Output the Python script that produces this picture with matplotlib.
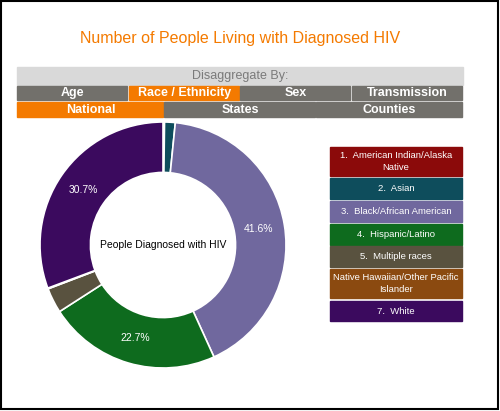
import matplotlib
matplotlib.use("Agg")
import matplotlib.pyplot as plt
from matplotlib.patches import Rectangle
import numpy as np

groups = ["American Indian/Alaska Native", "Asian", "Black/African American",
          "Hispanic/Latino", "Multiple races", "Native Hawaiian/Other Pacific Islander", "White"]
values = [0.2, 1.4, 41.6, 22.7, 3.3, 0.1, 30.7]
colors = ["#8B0A0A", "#0E4D5C", "#70689E", "#0E6B1E", "#59523F", "#8B4A10", "#3B0A5E"]
legend_labels = ["1.  American Indian/Alaska\nNative", "2.  Asian", "3.  Black/African American",
                 "4.  Hispanic/Latino", "5.  Multiple races", "Native Hawaiian/Other Pacific\nIslander", "7.  White"]
row1 = ["Age", "Race / Ethnicity", "Sex", "Transmission"]
row2 = ["National", "States", "Counties"]

W, H = 500, 411
fig = plt.figure(figsize=(5, 4.11), dpi=100)
bg = fig.add_axes([0, 0, 1, 1])
bg.set_xlim(0, W); bg.set_ylim(H, 0); bg.axis("off")
bg.add_patch(Rectangle((1, 1), W - 3, H - 3, fill=False, ec="black", lw=1.5))
orange = "#F47A00"; grey = "#72706B"
bg.text(240, 38, "Number of People Living with Diagnosed HIV", color=orange, fontsize=11.5,
        ha="center", va="center", family="Liberation Sans")
bg.add_patch(Rectangle((17, 67), 446, 18, color="#D9D9D9"))
bg.text(240, 76, "Disaggregate By:", color="#7A7A7A", fontsize=9, ha="center", va="center", family="Liberation Sans")
w1 = 446 / 4
for i, t in enumerate(row1):
    bg.add_patch(Rectangle((17 + i * w1, 86), w1 - 1.5, 14, color=orange if i == 1 else grey))
    bg.text(17 + i * w1 + w1 / 2, 93, t, color="white", fontsize=9, ha="center", va="center",
            family="Liberation Sans", fontweight="bold")
xs = [17, 164, 316, 463]
for i, t in enumerate(row2):
    bg.add_patch(Rectangle((xs[i], 102), xs[i + 1] - xs[i] - 1.5, 15, color=orange if i == 0 else grey))
    bg.text((xs[i] + xs[i + 1]) / 2, 109.5, t, color="white", fontsize=9, ha="center", va="center",
            family="Liberation Sans", fontweight="bold")

rows = [(147, 176), (178, 199), (201, 222), (224, 245), (246, 267), (269, 298), (301, 321)]
for (y0, y1), c, lab in zip(rows, colors, legend_labels):
    bg.add_patch(Rectangle((330, y0), 132, y1 - y0, color=c))
    bg.text(396, (y0 + y1) / 2, lab, color="white", fontsize=6.8, ha="center", va="center",
            family="Liberation Sans", linespacing=1.5)

cx, cy, r = 163, 245, 123
ax = fig.add_axes([(cx - r) / W, 1 - (cy + r) / H, 2 * r / W, 2 * r / H])
wedges, _ = ax.pie(values, colors=colors, startangle=90, counterclock=False,
                   wedgeprops=dict(width=0.41, edgecolor="white", linewidth=1.2))
ax.set_aspect("auto")
cum = 0
for v in values:
    if v > 10:
        ang = np.deg2rad(90 - (cum + v / 2) * 3.6)
        ax.text(0.79 * np.cos(ang), 0.79 * np.sin(ang), f"{v:.1f}%", color="white", fontsize=7.5,
                ha="center", va="center", family="Liberation Sans")
    cum += v
ax.text(0, 0, "People Diagnosed with HIV", fontsize=7.5, ha="center", va="center", family="Liberation Sans")
ax.set_xlim(-1, 1); ax.set_ylim(-1, 1)
fig.savefig("out.png", dpi=100)
